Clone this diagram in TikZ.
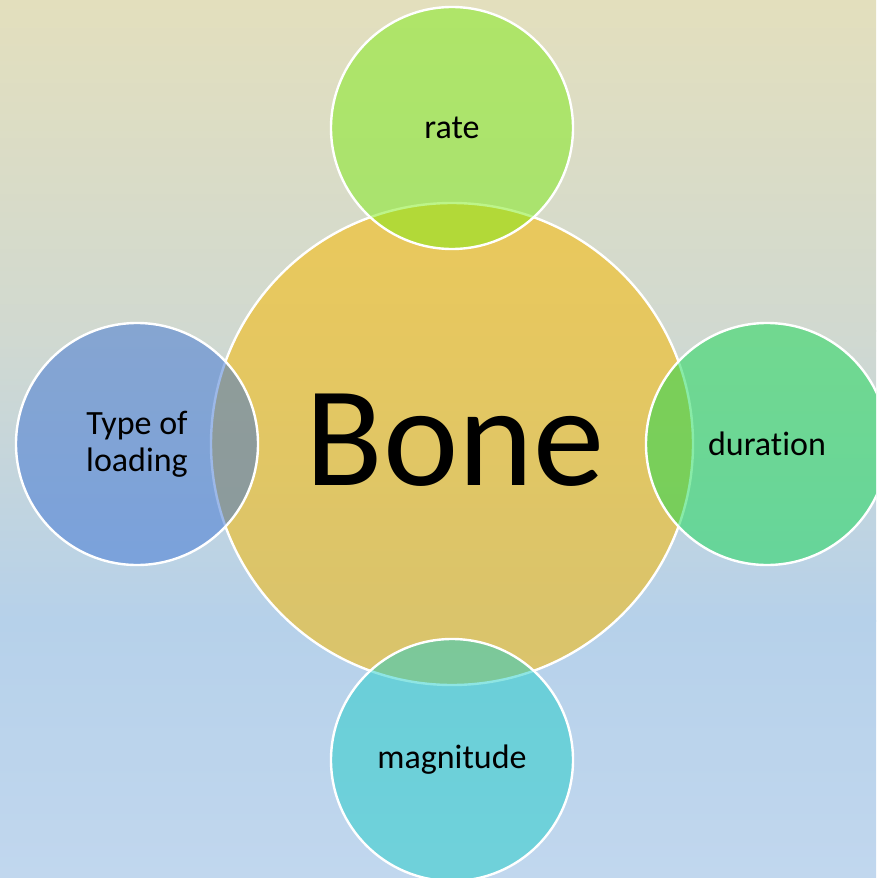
\documentclass[tikz,border=0pt]{standalone}
\usepackage{fontspec}
\setmainfont{Carlito}[Ligatures={NoCommon,NoRare,NoContextual}]
\definecolor{bga}{RGB}{227,223,189}
\definecolor{bgb}{RGB}{209,217,208}
\definecolor{bgc}{RGB}{182,209,234}
\definecolor{bgd}{RGB}{193,215,238}
\definecolor{bonecol}{RGB}{248,186,4}
\definecolor{ratecol}{RGB}{125,235,21}
\definecolor{durcol}{RGB}{19,216,81}
\definecolor{loadcol}{RGB}{59,114,211}
\definecolor{magcol}{RGB}{31,205,200}
\begin{document}
\begin{tikzpicture}[x=0.75pt,y=-0.75pt,
  disc/.style={circle, draw=white, line width=1.8pt, fill opacity=0.5, text opacity=1, inner sep=0pt},
  bigdisc/.style={disc, minimum size=361.5pt, fill opacity=0.55},
  smalldisc/.style={disc, minimum size=181.5pt, align=center, font=\fontsize{25.5}{27.8}\selectfont},
  bigtext/.style={font=\fontsize{107}{107}\selectfont, anchor=base, inner sep=0pt}]
\useasboundingbox (0,0) rectangle (876,878);
\clip (0,0) rectangle (876,878);
\shade[top color=bga, bottom color=bgb] (0,0) rectangle (876,331);
\shade[top color=bgb, bottom color=bgc] (0,330) rectangle (876,621);
\shade[top color=bgc, bottom color=bgd] (0,620) rectangle (876,878);
\node[bigdisc, fill=bonecol] (bone) at (452,444) {};
\node[bigtext] (bonelabel) at (455,485) {Bone};
\node[smalldisc, fill=ratecol] (rate) at (452,128) {rate};
\node[smalldisc, fill=loadcol] (load) at (137,444) {Type of\\loading};
\node[smalldisc, fill=durcol] (dur) at (767,444) {duration};
\node[smalldisc, fill=magcol] (mag) at (452,760) {magnitude};
\end{tikzpicture}
\end{document}
